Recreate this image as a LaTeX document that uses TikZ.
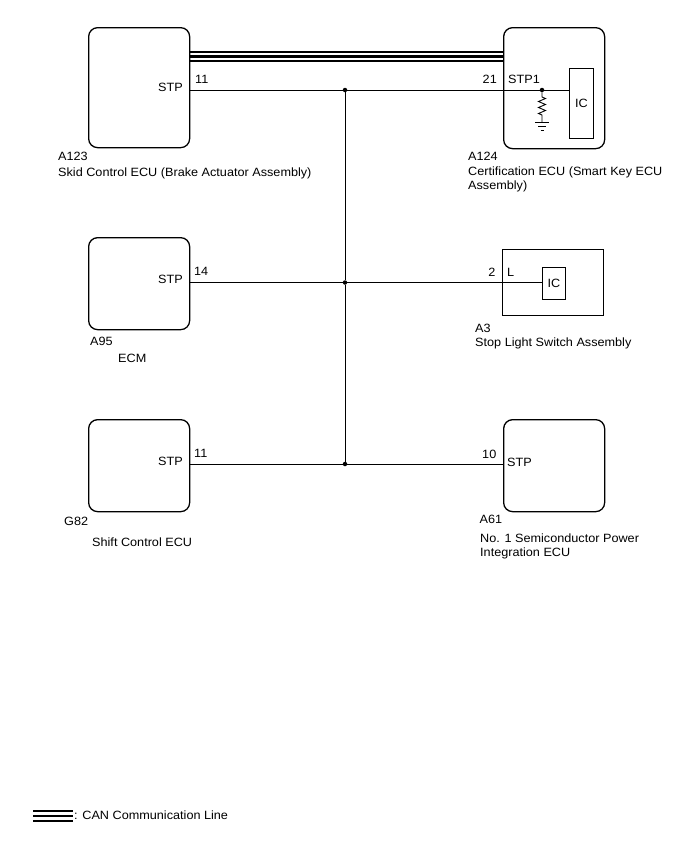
\documentclass[tikz,border=0pt]{standalone}
\usepackage{fontspec}
\setmainfont{Liberation Sans}[FakeStretch=1.055]
\begin{document}
\begin{tikzpicture}[x=1pt,y=-1pt,
  ecu/.style={draw, line width=1.3pt, rounded corners=9pt, inner sep=0pt, anchor=north west},
  swbox/.style={draw, line width=1.1pt, inner sep=0pt, anchor=north west},
  icbox/.style={draw, line width=1.1pt, inner sep=0pt, anchor=north west},
  wire/.style={line width=1pt},
  can/.style={line width=2.2pt},
  lbl/.style={inner sep=0pt, font=\fontsize{12}{14}\selectfont},
  dot/.style={circle, fill, inner sep=0pt, minimum size=4.5pt}]
\useasboundingbox[fill=white] (0,0) rectangle (688,852);

% boxes
\node[ecu, minimum width=101pt, minimum height=120pt] (a123) at (88,27) {};
\node[ecu, minimum width=101pt, minimum height=121pt] (a124) at (503,27) {};
\node[icbox, minimum width=24pt, minimum height=70pt] (ic1) at (569,68) {};
\node[lbl] (ic1t) at (ic1.center) {IC};

\node[ecu, minimum width=101pt, minimum height=92pt] (a95) at (88,237) {};
\node[swbox, minimum width=101pt, minimum height=66pt] (a3) at (502,249) {};
\node[icbox, minimum width=23pt, minimum height=32pt] (ic2) at (542,267) {};
\node[lbl] (ic2t) at (ic2.center) {IC};

\node[ecu, minimum width=101pt, minimum height=92pt] (g82) at (88,419) {};
\node[ecu, minimum width=101pt, minimum height=92pt] (a61) at (503,419) {};

% junctions
\node[dot] (j1) at (345,90) {};
\node[dot] (j2) at (345,282.5) {};
\node[dot] (j3) at (345,464) {};
\node[dot] (r1) at (542,90) {};

% CAN lines
\coordinate (c1) at (0,52);
\coordinate (c2) at (0,56.5);
\coordinate (c3) at (0,61);
\draw[can] (a123.east |- c1) -- (a124.west |- c1);
\draw[can] (a123.east |- c2) -- (a124.west |- c2);
\draw[can] (a123.east |- c3) -- (a124.west |- c3);

% wires
\draw[wire] (a123.east |- j1) -- (j1) -- (r1) -- (ic1.west |- r1);
\draw[wire] (a95.east |- j2) -- (j2) -- (ic2.west |- j2);
\draw[wire] (g82.east |- j3) -- (j3) -- (a61.west |- j3);
\draw[wire] (j1) -- (j2) -- (j3);

% resistor and ground
\coordinate (gnd) at (542,122);
\draw[line width=0.9pt] (r1) -- (542,97) -- (545.5,98.5) -- (538.5,101.5) -- (545.5,104.5) -- (538.5,107.5) -- (545.5,110.5) -- (538.5,113.5) -- (542,115) -- (gnd);
\draw[line width=0.9pt] (gnd) ++(-7,0) -- ++(14,0);
\draw[line width=0.9pt] (gnd) ++(-4,4) -- ++(8,0);
\draw[line width=0.9pt] (gnd) ++(-1.5,8) -- ++(3,0);

% pin labels
\node[lbl, anchor=base east] (t1) at (183,91) {STP};
\node[lbl, anchor=base west] (t2) at (195,83) {11};
\node[lbl, anchor=base east] (t3) at (497,83) {21};
\node[lbl, anchor=base west] (t4) at (508,83) {STP1};

\node[lbl, anchor=base east] (t5) at (183,283) {STP};
\node[lbl, anchor=base west] (t6) at (194,275) {14};
\node[lbl, anchor=base east] (t7) at (495.5,276.5) {2};
\node[lbl, anchor=base west] (t8) at (507,276.5) {L};

\node[lbl, anchor=base east] (t9) at (183,465) {STP};
\node[lbl, anchor=base west] (t10) at (194,457.5) {11};
\node[lbl, anchor=base east] (t11) at (496.5,458) {10};
\node[lbl, anchor=base west] (t12) at (507,466.5) {STP};

% component labels
\node[lbl, anchor=base west] (l1) at (58,160) {A123};
\node[lbl, anchor=base west] (l2) at (58,176) {Skid Control ECU (Brake Actuator Assembly)};
\node[lbl, anchor=base west] (l3) at (468,160) {A124};
\node[lbl, anchor=base west] (l4) at (468,175) {Certification ECU (Smart Key ECU};
\node[lbl, anchor=base west] (l5) at (468,189) {Assembly)};

\node[lbl, anchor=base west] (l6) at (90,345) {A95};
\node[lbl, anchor=base west] (l7) at (118,362.5) {ECM};
\node[lbl, anchor=base west] (l8) at (475,332) {A3};
\node[lbl, anchor=base west] (l9) at (475,346) {Stop Light Switch Assembly};

\node[lbl, anchor=base west] (l10) at (64,525) {G82};
\node[lbl, anchor=base west] (l11) at (92,546) {Shift Control ECU};
\node[lbl, anchor=base west] (l12) at (479.5,523) {A61};
\node[lbl, anchor=base west] (l13) at (480,542) {No. 1 Semiconductor Power};
\node[lbl, anchor=base west] (l14) at (480,556) {Integration ECU};

% legend
\coordinate (lg1) at (33,811);
\coordinate (lg2) at (33,816);
\coordinate (lg3) at (33,821);
\draw[can] (lg1) -- ++(40,0);
\draw[can] (lg2) -- ++(40,0);
\draw[can] (lg3) -- ++(40,0);
\node[lbl, anchor=base west] (legt) at (74,819.5) {: CAN Communication Line};
\end{tikzpicture}
\end{document}
